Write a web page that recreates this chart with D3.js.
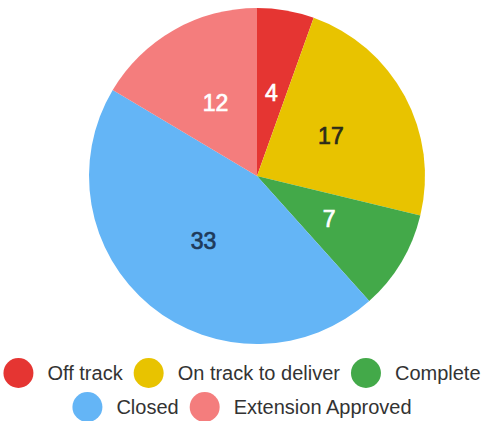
<!DOCTYPE html>
<html>
<head>
<meta charset="utf-8">
<script src="https://cdn.jsdelivr.net/npm/d3@7"></script>
<style>
  html, body { margin: 0; padding: 0; background: #fff; }
  svg { display: block; font-family: "Liberation Sans", Arial, sans-serif; }
</style>
</head>
<body>
<svg id="chart" width="484" height="421"></svg>
<script>
// Status breakdown
const categories = ["Off track", "On track to deliver", "Complete", "Closed", "Extension Approved"];
const values = [4, 17, 7, 33, 12];
const colors = ["#e53532", "#e8c300", "#43a949", "#64b5f6", "#f47d7d"];
const labelColors = ["#ffffff", "#2b2b1a", "#ffffff", "#1e3a5a", "#ffffff"];

const W = 484, H = 421;
const cx = 257, cy = 176, R = 168;

const svg = d3.select("#chart");

const data = categories.map((c, i) => ({ name: c, value: values[i], color: colors[i], label: labelColors[i] }));

const pie = d3.pie().value(d => d.value).sort(null);
const arc = d3.arc().innerRadius(0).outerRadius(R);

const g = svg.append("g").attr("transform", `translate(${cx},${cy})`);
const arcs = pie(data);

g.selectAll("path")
  .data(arcs)
  .join("path")
  .attr("d", arc)
  .attr("fill", d => d.data.color);

g.selectAll("text")
  .data(arcs)
  .join("text")
  .attr("transform", d => `translate(${arc.centroid(d)})`)
  .attr("text-anchor", "middle")
  .attr("dominant-baseline", "central")
  .attr("font-size", 23)
  .attr("fill", d => d.data.label)
  .attr("stroke", d => d.data.label)
  .attr("stroke-width", 0.7)
  .text(d => d.data.value);

// Legend in two centred rows
const rows = [[0, 1, 2], [3, 4]];
const rowY = [373, 407];
const legendFont = 20, dotR = 15, gapDot = 14, gapItem = 11;

const legend = svg.append("g");
rows.forEach((row, ri) => {
  const rowG = legend.append("g");
  let x = 0;
  row.forEach(idx => {
    const item = rowG.append("g").attr("transform", `translate(${x},0)`);
    item.append("circle").attr("cx", dotR).attr("cy", 0).attr("r", dotR).attr("fill", colors[idx]);
    const t = item.append("text")
      .attr("x", dotR * 2 + gapDot)
      .attr("y", 0)
      .attr("dominant-baseline", "central")
      .attr("font-size", legendFont)
      .attr("fill", "#333")
      .text(categories[idx]);
    const tw = t.node().getComputedTextLength();
    x += dotR * 2 + gapDot + tw + gapItem;
  });
  const total = x - gapItem;
  rowG.attr("transform", `translate(${(W - total) / 2},${rowY[ri]})`);
});
</script>
</body>
</html>
